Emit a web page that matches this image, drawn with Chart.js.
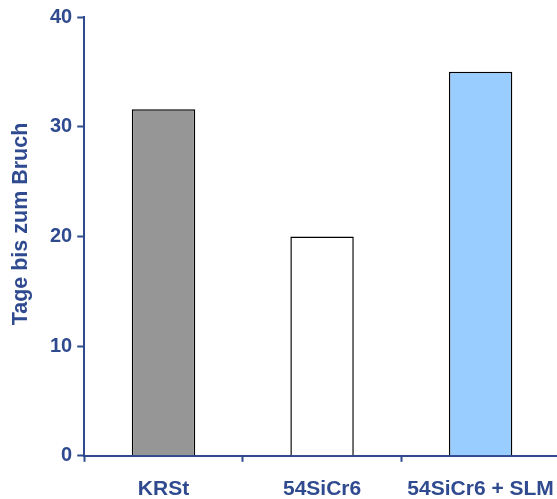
<!DOCTYPE html>
<html>
<head>
<meta charset="utf-8">
<script src="https://cdn.jsdelivr.net/npm/chart.js@4/dist/chart.umd.min.js"></script>
<style>
  html, body { margin: 0; padding: 0; background: #fff; overflow: hidden; }
  canvas { display: block; }
</style>
</head>
<body>
<canvas id="chart" width="570" height="517"></canvas>
<script>
const categories = ['KRSt', '54SiCr6', '54SiCr6 + SLM'];
const tageBisBruch = [31.6, 20, 35];
const barColors = ['#969696', '#ffffff', '#99ccff'];
const yTicks = [0, 10, 20, 30, 40];
const yTitle = 'Tage bis zum Bruch';

const blue = '#2f4a8f';
const family = '"Liberation Sans", Arial, sans-serif';
const font = { family: family, weight: 'bold', size: 20 };

// y-Achsentitel etwas oberhalb der Mitte, wie im Original
const yTitlePlugin = {
    id: 'yTitle',
    afterDraw(chart) {
        const ctx = chart.ctx;
        ctx.save();
        ctx.translate(21, 224);
        ctx.rotate(-Math.PI / 2);
        ctx.font = 'bold 21.5px ' + family;
        ctx.fillStyle = blue;
        ctx.textAlign = 'center';
        ctx.textBaseline = 'middle';
        ctx.fillText(yTitle, 0, 0);
        ctx.restore();
    }
};

new Chart(document.getElementById('chart'), {
    type: 'bar',
    data: {
        labels: categories,
        datasets: [{
            data: tageBisBruch,
            backgroundColor: barColors,
            borderColor: '#000',
            borderWidth: 1.5,
            categoryPercentage: 1,
            barPercentage: 0.4
        }]
    },
    options: {
        responsive: false,
        animation: false,
        layout: { padding: { left: 45, top: 5, right: 7, bottom: 0 } },
        plugins: { legend: { display: false }, tooltip: { enabled: false } },
        scales: {
            x: {
                grid: { offset: true, drawOnChartArea: false, tickLength: 6, tickColor: blue, tickWidth: 2 },
                border: { color: blue, width: 2 },
                ticks: { color: blue, font: { ...font, size: 21 }, padding: 15, maxRotation: 0 }
            },
            y: {
                min: 0, max: 40,
                afterBuildTicks: axis => { axis.ticks = yTicks.map(v => ({ value: v })); },
                grid: { drawOnChartArea: false, tickLength: 7, tickColor: blue, tickWidth: 2 },
                border: { color: blue, width: 2 },
                ticks: { color: blue, font: font, padding: 5 }
            }
        }
    },
    plugins: [yTitlePlugin]
});
</script>
</body>
</html>
